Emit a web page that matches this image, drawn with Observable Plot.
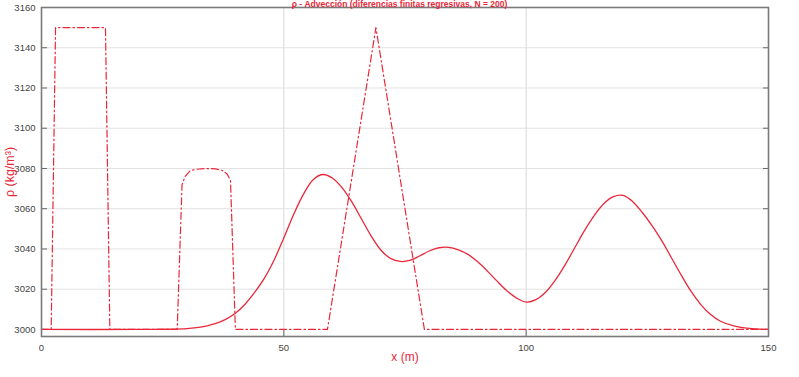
<!DOCTYPE html>
<html><head><meta charset="utf-8">
<script src="https://cdn.jsdelivr.net/npm/d3@7"></script>
<script src="https://cdn.jsdelivr.net/npm/@observablehq/plot@0.6"></script>
<style>
body{margin:0;background:#fff;overflow:hidden}
#wrap{position:relative;width:799px;height:377px}
#title{position:absolute;top:0;left:0;width:799px;text-align:center;font:bold 8.5px/9px "Liberation Sans",Arial,sans-serif;color:#e8283a;z-index:2;white-space:nowrap}
</style></head>
<body><div id="wrap"><div id="title"></div></div>
<script>
const titleText = "ρ - Advección (diferencias finitas regresivas, N = 200)";
const xLabel = "x (m)";
const yLabel = "ρ (kg/m³)";
const xTicks = [0, 50, 100, 150];
const yTicks = [3000, 3020, 3040, 3060, 3080, 3100, 3120, 3140, 3160];

// initial condition (dash-dot)
const x0 = [0, 2.0, 2.9, 13.2, 14.1, 28.0, 29.0, 29.6, 30.7, 32, 33.8, 35.9, 37.3, 38.3, 39.0, 40.0, 59, 69, 79, 150];
const rho0 = [3000, 3000, 3150, 3150, 3000, 3000, 3072, 3076, 3078.9, 3079.6, 3080, 3079.8, 3079, 3077.3, 3074, 3000, 3000, 3150, 3000, 3000];

// solution (solid)
const x1 = [0, 20, 26, 30, 32, 34, 36, 38, 40, 42, 44, 46, 48, 50, 52, 54, 56, 58, 60, 62, 64, 66, 68, 70, 72, 74, 76, 78, 80, 82, 84, 86, 88, 90, 92, 94, 96, 98, 100, 102, 104, 106, 108, 110, 112, 114, 116, 118, 120, 122, 124, 126, 128, 130, 132, 134, 136, 138, 140, 143, 146, 150];
const rho1 = [3000, 3000, 3000.1, 3000.4, 3000.9, 3001.7, 3003, 3005, 3008, 3012.5, 3018.5, 3025.5, 3034.5, 3045.5, 3057, 3067, 3074.3, 3077, 3075.3, 3070.5, 3063.5, 3055, 3046.5, 3039.5, 3035.3, 3033.8, 3034.3, 3036.5, 3039, 3040.6, 3040.8, 3039.6, 3037.3, 3033.6, 3029, 3024, 3019.3, 3015.6, 3013.6, 3014.8, 3018.5, 3024.5, 3032, 3040.5, 3049, 3056.5, 3062.5, 3066, 3066.6, 3063.5, 3058, 3051.5, 3044, 3035.5, 3027, 3019, 3012.5, 3007.5, 3004.2, 3001.6, 3000.5, 3000];

document.getElementById("title").textContent = titleText;
const init = x0.map((x, i) => ({x, rho: rho0[i]}));
const sol = x1.map((x, i) => ({x, rho: rho1[i]}));
const red = "#e8283a";

const chart = Plot.plot({
  width: 799, height: 377,
  marginTop: 7, marginBottom: 41, marginLeft: 41, marginRight: 31,
  style: {fontFamily: '"Liberation Sans", Arial, sans-serif', fontSize: "9.5px", background: "#fff", color: "#444"},
  x: {domain: [0, 150], ticks: xTicks, tickFormat: "d"},
  y: {domain: [2996.5, 3160], ticks: yTicks, tickFormat: "d"},
  marks: [
    Plot.gridX([50, 100], {stroke: "#d8d8d8", strokeOpacity: 1}),
    Plot.gridY(yTicks.slice(1, -1), {stroke: "#e2e2e2", strokeOpacity: 1}),
    Plot.axisY(yTicks, {anchor: "left", tickSize: -6, tickPadding: 12, tickFormat: "d", label: null, fill: "#444", stroke: "#666"}),
    Plot.axisY(yTicks, {anchor: "right", tickSize: -6, text: null, label: null, stroke: "#666"}),
    Plot.axisX(xTicks, {anchor: "bottom", tickSize: -6, tickPadding: 14, tickFormat: "d", label: null, fill: "#444", stroke: "#666"}),
    Plot.line(init, {x: "x", y: "rho", stroke: red, strokeWidth: 1.2, strokeDasharray: "7,3,1.5,3"}),
    Plot.line(sol, {x: "x", y: "rho", stroke: red, strokeWidth: 1.3, curve: "catmull-rom"}),
    Plot.frame({stroke: "#7a7a7a", strokeWidth: 1.6}),
    Plot.text([yLabel], {frameAnchor: "left", textAnchor: "middle", dx: -32, rotate: -90, fill: red, fontSize: 12.5}),
    Plot.text([xLabel], {frameAnchor: "bottom", dy: 24, fill: red, fontSize: 12})
  ]
});
document.getElementById("wrap").appendChild(chart);
</script></body></html>
